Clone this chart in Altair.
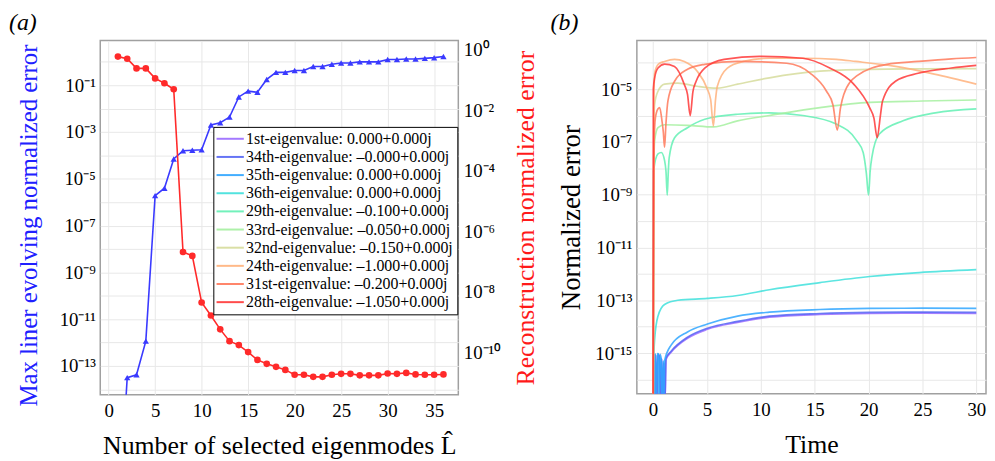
import altair as alt
import pandas as pd

FONT = "Liberation Serif"
BLUE = "#3a3aff"
RED = "#ff2a2a"

# ---------------- panel (a) data ----------------
modes = list(range(1, 37))
# log10 of the max linear evolving normalized error (left axis)
evolving_err_exp = [-20, -13.5, -13.38, -11.94, -5.72, -5.4, -4.15, -3.8, -3.78, -3.76,
                    -2.7, -2.6, -2.36, -1.5, -1.25, -1.3, -0.75, -0.45, -0.45, -0.37,
                    -0.37, -0.2, -0.2, -0.1, -0.05, -0.05, 0.0, 0.0, 0.0, 0.1,
                    0.1, 0.12, 0.12, 0.15, 0.18, 0.23]
# log10 of the reconstruction normalized error (right axis)
recon_err_exp = [-0.23, -0.3, -0.62, -0.62, -0.95, -1.11, -1.31, -6.69, -6.82, -8.36,
                 -8.79, -9.25, -9.64, -9.77, -10.0, -10.26, -10.39, -10.49, -10.59, -10.75,
                 -10.75, -10.82, -10.82, -10.75, -10.72, -10.72, -10.77, -10.77, -10.77, -10.71,
                 -10.72, -10.69, -10.74, -10.75, -10.75, -10.74]

# ---------------- panel (b) data ----------------
series_names = [
    "1st-eigenvalue: 0.000+0.000j",
    "34th-eigenvalue: \u20130.000+0.000j",
    "35th-eigenvalue: 0.000+0.000j",
    "36th-eigenvalue: 0.000+0.000j",
    "29th-eigenvalue: \u20130.100+0.000j",
    "33rd-eigenvalue: \u20130.050+0.000j",
    "32nd-eigenvalue: \u20130.150+0.000j",
    "24th-eigenvalue: \u20131.000+0.000j",
    "31st-eigenvalue: \u20130.200+0.000j",
    "28th-eigenvalue: \u20131.050+0.000j",
]
series_colors = ["#9b6bff", "#5565f5", "#2fa6ff", "#3fe0dc", "#63f0b4",
                 "#a6f0a0", "#d6dc9c", "#ffb27c", "#ff7a5c", "#ff3838"]

t_1st = [0, 0.05, 0.15, 0.25, 0.35, 0.45, 0.6, 0.7, 0.8, 0.9, 1.0, 1.1, 1.2, 1.68, 3.2, 5.05, 7.85, 10.8, 15.5, 20.1, 25, 30]
e_1st = [-20, -15.1, -17, -15.1, -17, -15.1, -15.15, -17, -15.25, -17, -15.4, -17, -15.25, -14.97, -14.44, -14.1, -13.84, -13.64, -13.54, -13.5, -13.49, -13.5]

t_34 = [0, 0.05, 0.15, 0.25, 0.35, 0.45, 0.6, 0.7, 0.8, 0.9, 1.0, 1.1, 1.2, 1.68, 3.2, 5.05, 7.85, 10.8, 15.5, 20.1, 25, 30]
e_34 = [-20, -15.05, -17, -15.05, -17, -15.05, -15.1, -17, -15.2, -17, -15.35, -17, -15.2, -14.93, -14.4, -14.06, -13.8, -13.6, -13.5, -13.46, -13.45, -13.46]

t_35 = [0, 0.05, 0.1, 0.2, 0.3, 0.4, 0.5, 0.55, 0.65, 0.75, 0.85, 0.95, 1.0, 1.07, 1.68, 3.2, 5.05, 7.85, 10.8, 15.5, 20.1, 25, 30]
e_35 = [-20, -15.0, -17, -15.02, -17, -15.02, -15.03, -17, -15.05, -15.2, -17, -15.3, -17, -15.3, -14.7, -14.2, -13.9, -13.6, -13.45, -13.35, -13.31, -13.3, -13.31]

t_36 = [0, 0.05, 0.15, 0.46, 1.07, 2.3, 5.05, 7.85, 10.8, 15.5, 20.1, 24.7, 30]
e_36 = [-20, -15.5, -14.47, -13.6, -13.16, -13.0, -12.93, -12.82, -12.6, -12.33, -12.1, -11.95, -11.84]

t_29 = [0, 0.05, 0.46, 0.77, 1.07, 1.2, 1.32, 1.42, 1.5, 2.0, 3.2, 4.8, 7.85, 10.8, 13.9, 17, 18.9, 19.5, 19.8, 20.0, 20.15, 20.3, 21.0, 23.2, 26.2, 30]
e_29 = [-20, -8.1, -7.45, -7.4, -7.7, -8.1, -9.02, -8.1, -7.6, -6.84, -6.46, -6.14, -5.95, -5.9, -6.0, -6.32, -6.95, -7.4, -8.2, -9.02, -8.1, -7.6, -6.7, -6.2, -5.9, -5.75]

t_33 = [0, 0.08, 0.15, 0.46, 1.07, 3.2, 5.6, 7.85, 10.8, 15.5, 20.1, 25, 30]
e_33 = [-20, -7.8, -6.95, -6.46, -6.35, -6.37, -6.43, -6.2, -6.0, -5.7, -5.5, -5.45, -5.41]

t_32 = [0, 0.08, 0.15, 0.46, 1.07, 2.3, 4.1, 5.96, 7.85, 10.8, 15.5, 20.1, 25, 30]
e_32 = [-20, -6.3, -5.57, -5.08, -4.81, -4.77, -4.89, -4.96, -4.81, -4.57, -4.32, -4.25, -4.23, -4.22]

t_24 = [0, 0.08, 0.15, 0.5, 1.07, 2.0, 2.9, 4.1, 5.0, 5.35, 5.6, 5.8, 5.96, 6.9, 8.4, 10.8, 13.9, 17, 18.8, 22.5, 26.1, 30]
e_24 = [-20, -5.5, -4.4, -4.05, -3.95, -3.87, -3.95, -4.32, -4.96, -5.4, -6.4, -5.4, -4.9, -4.2, -3.95, -3.83, -3.83, -3.87, -3.95, -4.14, -4.43, -4.81]

t_31 = [0, 0.1, 0.22, 0.45, 0.62, 0.83, 0.95, 1.07, 1.2, 1.38, 2.0, 3.2, 4.8, 7.85, 12.4, 14.6, 16.1, 16.7, 17.1, 17.4, 17.7, 18.9, 21.7, 24.6, 27.7, 30]
e_31 = [-20, -7.0, -6.09, -5.75, -5.7, -6.2, -6.6, -7.2, -6.3, -5.45, -4.7, -4.25, -4.06, -3.95, -4.02, -4.4, -5.08, -5.6, -6.55, -5.7, -5.2, -4.5, -4.06, -3.95, -3.85, -3.8]

t_28 = [0, 0.03, 0.15, 0.46, 1.07, 1.99, 2.9, 3.2, 3.45, 3.7, 4.0, 4.8, 6.6, 9.9, 13.9, 16.4, 18.6, 20.1, 20.5, 20.8, 21.1, 21.3, 22.5, 24.6, 27.7, 30]
e_28 = [-20, -5.0, -4.57, -4.2, -4.05, -4.14, -4.82, -5.2, -6.0, -5.1, -4.7, -4.2, -3.87, -3.76, -3.83, -4.2, -4.8, -5.7, -6.1, -6.84, -6.0, -5.45, -4.7, -4.4, -4.2, -4.1]

series_t = [t_1st, t_34, t_35, t_36, t_29, t_33, t_32, t_24, t_31, t_28]
series_e = [e_1st, e_34, e_35, e_36, e_29, e_33, e_32, e_24, e_31, e_28]

# ---------------- helpers ----------------
SUP = {"-": "\u207b", "0": "\u2070", "1": "\u00b9", "2": "\u00b2", "3": "\u00b3",
       "4": "\u2074", "5": "\u2075", "6": "\u2076", "7": "\u2077", "8": "\u2078", "9": "\u2079"}


def log_label_expr(labeled):
    parts = []
    for k in labeled:
        s = "10" + "".join(SUP[c] for c in str(k))
        parts.append(f"round(log(datum.value)/LN10) == {k} ? '{s}'")
    return " : ".join(parts) + " : ''"


# ---------------- panel (a) ----------------
df_blue = pd.DataFrame({"L": modes, "err": [10 ** e for e in evolving_err_exp]})
df_red = pd.DataFrame({"L": modes, "rerr": [10 ** e for e in recon_err_exp]})

x_a = alt.X("L:Q",
            scale=alt.Scale(domain=[-0.9, 37.6], nice=False, zero=False),
            axis=alt.Axis(values=list(range(0, 40, 5)), title="Number of selected eigenmodes L\u0302",
                          titlePadding=12, labelPadding=7))

blue = alt.Chart(df_blue).mark_line(
    color=BLUE, strokeWidth=1.6, clip=True,
    point=alt.OverlayMarkDef(shape="triangle-up", filled=True, size=40, color=BLUE, clip=True)
).encode(
    x=x_a,
    y=alt.Y("err:Q",
            scale=alt.Scale(type="log", domain=[10 ** -14.23, 10 ** 0.91], nice=False),
            axis=alt.Axis(orient="left", values=[10.0 ** k for k in range(-14, 1)],
                          labelExpr=log_label_expr(list(range(-13, 0, 2))),
                          title="Max liner evolving normalized error", titleColor="#2020ff",
                          titleFontSize=25, titleY=186, titlePadding=18)),
)

red = alt.Chart(df_red).mark_line(
    color=RED, strokeWidth=1.6, clip=True,
    point=alt.OverlayMarkDef(shape="circle", filled=True, size=45, color=RED, clip=True)
).encode(
    x=x_a,
    y=alt.Y("rerr:Q",
            scale=alt.Scale(type="log", domain=[10 ** -11.41, 10 ** 0.3], nice=False),
            axis=alt.Axis(orient="right", values=[10.0 ** k for k in range(-11, 1)],
                          labelExpr=log_label_expr(list(range(-10, 1, 2))), grid=False,
                          title="Reconstruction normalized error", titleColor="#ff1a1a",
                          titleAngle=270, titleBaseline="top", titlePadding=12)),
)

panel_a = alt.layer(blue, red).resolve_scale(y="independent").properties(
    width=361, height=357,
    title=alt.TitleParams("(a)", anchor="start", frame="group", dx=-92, offset=6),
)

# ---------------- panel (b) ----------------
rows = []
for name, ts, es in zip(series_names, series_t, series_e):
    for t, e in zip(ts, es):
        rows.append({"series": name, "t": t, "err": 10 ** e})
df_b = pd.DataFrame(rows)

panel_b = alt.Chart(df_b).mark_line(strokeWidth=1.7, opacity=0.85, clip=True,
                                    interpolate="monotone").encode(
    x=alt.X("t:Q", scale=alt.Scale(domain=[-1.5, 30.9], nice=False, zero=False),
            axis=alt.Axis(values=list(range(0, 35, 5)), title="Time", titlePadding=12, labelPadding=7)),
    y=alt.Y("err:Q", scale=alt.Scale(type="log", domain=[10 ** -16.54, 10 ** -3.16], nice=False),
            axis=alt.Axis(values=[10.0 ** k for k in range(-16, -3)],
                          labelExpr=log_label_expr(list(range(-15, -4, 2))),
                          title="Normalized error", titleFontSize=27, titlePadding=10)),
    color=alt.Color("series:N",
                    scale=alt.Scale(domain=series_names, range=series_colors),
                    legend=alt.Legend(orient="none", legendX=114, legendY=87, title=None,
                                      symbolType="M-2.5,0H2.5", symbolSize=121, symbolStrokeWidth=2,
                                      symbolOffset=5, labelOffset=8,
                                      labelFont=FONT, labelFontSize=16, labelLimit=400,
                                      rowPadding=2.3, padding=4,
                                      fillColor="white", strokeColor="black",
                                      symbolOpacity=0.9)),
).properties(
    width=352, height=356,
    title=alt.TitleParams("(b)", anchor="start", frame="group", dx=-87, offset=6),
)

chart = alt.hconcat(panel_a, panel_b, spacing=10).resolve_scale(color="shared").resolve_legend(
    color="shared"
).properties(padding=0).configure(
    font=FONT, style={"guide-label": {"font": FONT}}
).configure_view(
    stroke="#a0a0a0", strokeWidth=1.5
).configure_axis(
    labelFont=FONT, titleFont=FONT, labelFontSize=19, titleFontSize=26, titleFontWeight="normal",
    labelColor="black", titleColor="black", gridColor="#e8e8e8", gridWidth=1,
    domain=False, ticks=False, labelPadding=5
).configure_legend(
    labelFont=FONT, labelColor="black"
).configure_title(
    font=FONT, fontSize=24, fontWeight="normal", fontStyle="italic", color="black"
)

chart.save("out.html", embed_options={"renderer": "svg", "actions": False})
